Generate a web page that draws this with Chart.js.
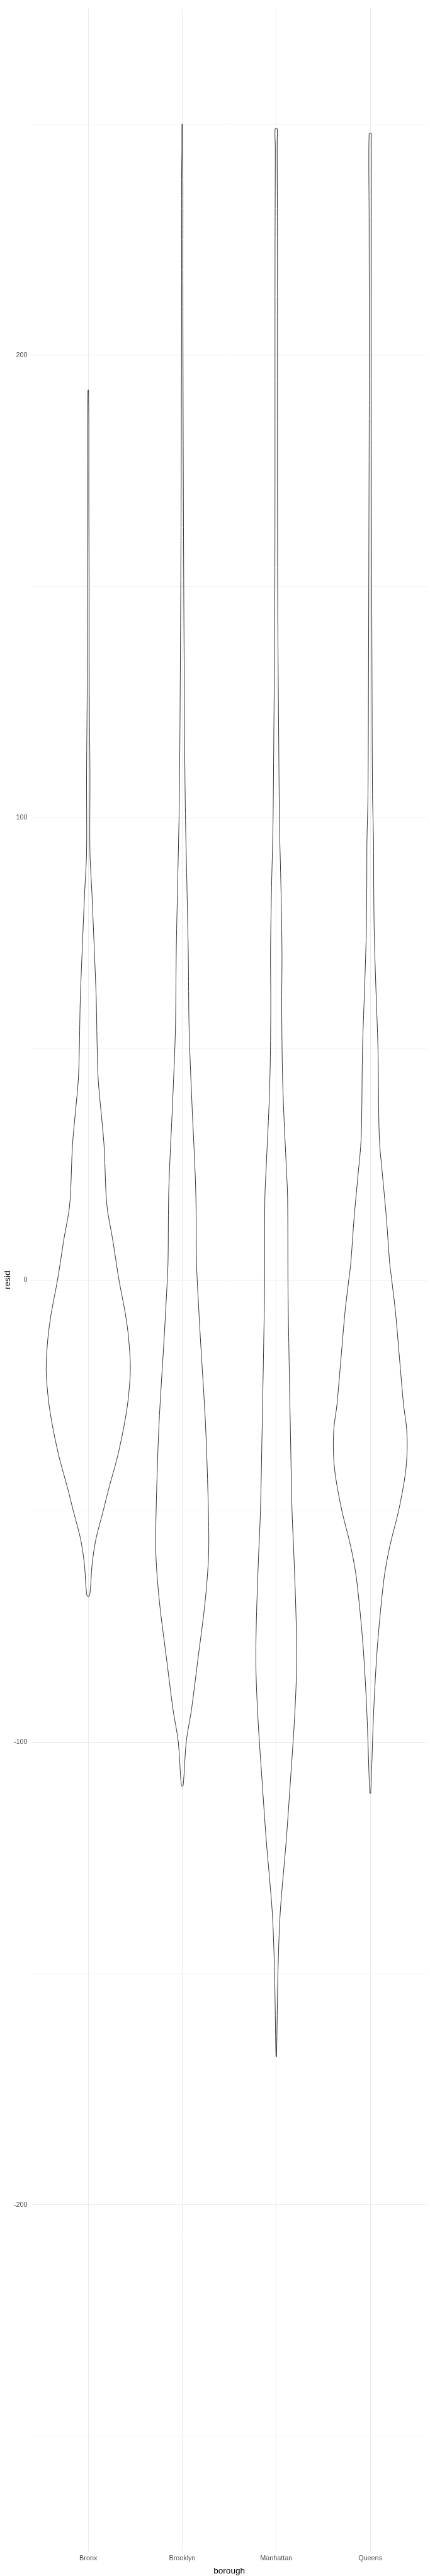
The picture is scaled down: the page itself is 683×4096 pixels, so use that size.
<!DOCTYPE html>
<html>
<head>
<meta charset="utf-8">
<script src="https://cdn.jsdelivr.net/npm/chart.js@4.4.1/dist/chart.umd.min.js"></script>
<style>
  html, body { margin: 0; padding: 0; background: #ffffff; }
  canvas { display: block; }
</style>
</head>
<body>
<canvas id="resid-violin" width="683" height="4096"></canvas>
<script>
const boroughs = ['Bronx', 'Brooklyn', 'Manhattan', 'Queens'];

// residuals along each violin, top to bottom, with the half-width (in category units) at that level
const bronxResid = [192.5, 185, 170, 150, 131, 120, 109, 92.5, 83.6, 70.1, 60.6, 50.1, 43, 29.4, 18.6, 14.6, 9.2, 0, -7.1, -12.5, -19.3, -26.1, -31.5, -38.3, -45, -49.8, -55.9, -61.3, -68.3];
const bronxWidth = [0.003, 0.006, 0.006, 0.009, 0.010, 0.014, 0.018, 0.018, 0.039, 0.067, 0.085, 0.095, 0.107, 0.167, 0.189, 0.208, 0.256, 0.327, 0.393, 0.429, 0.448, 0.423, 0.381, 0.310, 0.220, 0.161, 0.083, 0.042, 0.014];

const brooklynResid = [250, 245, 238, 221, 200, 169, 134, 110, 98, 85, 70.7, 54.1, 38.7, 19.7, 4.3, 0.1, -12.3, -31.5, -49.9, -59.6, -69.8, -82.6, -92.8, -99.8, -109.4];
const brooklynWidth = [0.003, 0.003, 0.007, 0.007, 0.008, 0.012, 0.020, 0.028, 0.036, 0.050, 0.064, 0.073, 0.102, 0.143, 0.151, 0.159, 0.192, 0.248, 0.278, 0.280, 0.242, 0.163, 0.099, 0.043, 0.009];

const manhattanResid = [249, 245, 230, 221, 150, 120, 98, 85, 70.7, 60.1, 46.9, 37.7, 24.4, 17.7, -2.1, -15.3, -35.2, -49.9, -61.7, -74.9, -84.1, -94.7, -108, -121.3, -136.9, -150, -168];
const manhattanWidth = [0.012, 0.010, 0.012, 0.013, 0.015, 0.025, 0.035, 0.050, 0.061, 0.058, 0.064, 0.077, 0.107, 0.121, 0.125, 0.135, 0.153, 0.168, 0.192, 0.213, 0.216, 0.195, 0.152, 0.106, 0.042, 0.018, 0.003];

const queensResid = [248, 230, 200, 155, 134, 105, 94.9, 84.7, 74.6, 64.4, 50.1, 33.9, 28.8, 23.8, 13.6, 3.4, 0.1, -6.8, -16.9, -27.1, -32.1, -37.2, -42.3, -49.9, -57.6, -64.5, -79, -93.5, -111];
const queensWidth = [0.012, 0.012, 0.010, 0.015, 0.018, 0.024, 0.035, 0.037, 0.043, 0.058, 0.082, 0.092, 0.102, 0.125, 0.171, 0.208, 0.228, 0.268, 0.311, 0.355, 0.387, 0.392, 0.371, 0.302, 0.208, 0.147, 0.077, 0.036, 0.005];

const yTicks = [-250, -200, -150, -100, -50, 0, 50, 100, 150, 200, 250];

const violins = [
  [bronxResid, bronxWidth],
  [brooklynResid, brooklynWidth],
  [manhattanResid, manhattanWidth],
  [queensResid, queensWidth],
];

// outline: down the right side, back up the left side, then close
function outline(pos, resid, width) {
  const right = resid.map((r, i) => ({ x: pos + width[i], y: r }));
  const left = resid.map((r, i) => ({ x: pos - width[i], y: r })).reverse();
  return right.concat(left, [right[0]]);
}

const S = 0.888;
const tickFont = { family: '"Liberation Sans", Arial, sans-serif', size: 12.2 * S };
const titleFont = { family: '"Liberation Sans", Arial, sans-serif', size: 15.3 * S };

new Chart('resid-violin', {
  type: 'line',
  data: {
    datasets: violins.map(([resid, width], i) => ({
      label: boroughs[i],
      data: outline(i, resid, width),
      borderColor: '#333333',
      borderWidth: 1,
      pointRadius: 0,
      fill: false,
      tension: 0.3,
    })),
  },
  options: {
    responsive: false,
    animation: false,
    devicePixelRatio: 1,
    layout: { padding: { top: 8 * S, right: 6 * S, left: 0, bottom: 0 } },
    plugins: { legend: { display: false }, tooltip: { enabled: false } },
    scales: {
      x: {
        type: 'linear',
        min: -0.6,
        max: 3.6,
        afterBuildTicks: scale => { scale.ticks = boroughs.map((b, i) => ({ value: i })); },
        afterFit: scale => { scale.height = 44 * S; },
        ticks: {
          callback: v => boroughs[v],
          autoSkip: false,
          maxRotation: 0,
          padding: 5 * S,
          color: '#4D4D4D',
          font: tickFont,
        },
        grid: { color: '#EBEBEB', lineWidth: 1, drawTicks: false },
        border: { display: false },
        title: { display: true, text: 'borough', color: '#000000', font: titleFont, padding: { top: 1, bottom: 0 } },
      },
      y: {
        type: 'linear',
        min: -275,
        max: 275,
        afterBuildTicks: scale => { scale.ticks = yTicks.map(v => ({ value: v })); },
        afterFit: scale => { scale.width = 57 * S; },
        ticks: {
          callback: v => (v % 100 === 0 ? String(v) : ''),
          padding: 8 * S,
          color: '#4D4D4D',
          font: tickFont,
        },
        grid: {
          color: '#EBEBEB',
          lineWidth: ctx => (ctx.tick && ctx.tick.value % 100 === 0 ? 1 : 0.6),
          drawTicks: false,
        },
        border: { display: false },
        title: { display: true, text: 'resid', color: '#000000', font: titleFont, padding: { top: 4, bottom: 0 } },
      },
    },
  },
});
</script>
</body>
</html>
